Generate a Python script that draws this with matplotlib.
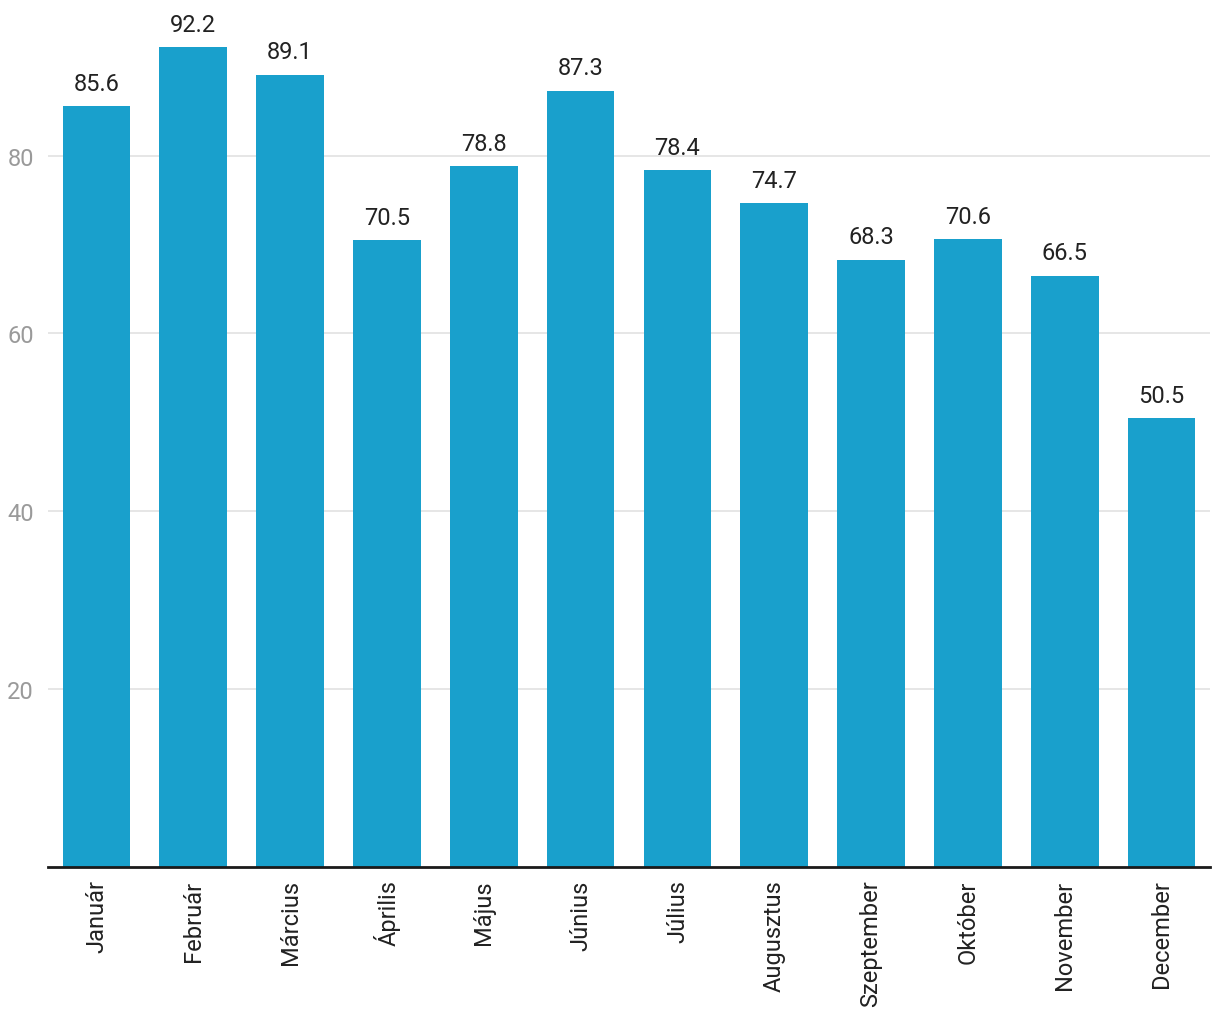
import matplotlib
matplotlib.use("Agg")
import matplotlib.pyplot as plt

plt.rcParams['font.family'] = ['Roboto', 'DejaVu Sans']

months = ['Január', 'Február', 'Március', 'Április', 'Május', 'Június',
          'Július', 'Augusztus', 'Szeptember', 'Október', 'November', 'December']
values = [85.6, 92.2, 89.1, 70.5, 78.8, 87.3, 78.4, 74.7, 68.3, 70.6, 66.5, 50.5]
yticks = [20, 40, 60, 80]

fig = plt.figure(figsize=(12.2, 10.2), dpi=100)
ax = fig.add_axes([48 / 1220, 152 / 1020, 1162 / 1220, 868 / 1020])

x = list(range(len(months)))
bars = ax.bar(x, values, width=0.70, color='#19a0cc', zorder=2)
for xi, v in zip(x, values):
    ax.annotate(f'{v:.1f}', (xi, v), xytext=(0, 8), textcoords='offset points',
                ha='center', va='bottom', fontsize=17, color='#222222')

ax.set_xlim(-0.5, len(months) - 0.5)
ax.set_ylim(0, 97.6)
ax.set_yticks(yticks)
ax.set_yticklabels([str(t) for t in yticks])
ax.set_xticks(x)
ax.set_xticklabels(months, rotation=90)
ax.tick_params(axis='y', length=0, labelsize=17, labelcolor='#9a9a9a', pad=10)
ax.tick_params(axis='x', length=0, labelsize=17, labelcolor='#222222', pad=9)
ax.grid(axis='y', color='#e2e2e2', linewidth=1.2, zorder=0)
for s in ['top', 'right', 'left']:
    ax.spines[s].set_visible(False)
ax.spines['bottom'].set_linewidth(2)
ax.spines['bottom'].set_color('#1a1a1a')
ax.spines['bottom'].set_zorder(3)

fig.savefig('out.png', dpi=100)
